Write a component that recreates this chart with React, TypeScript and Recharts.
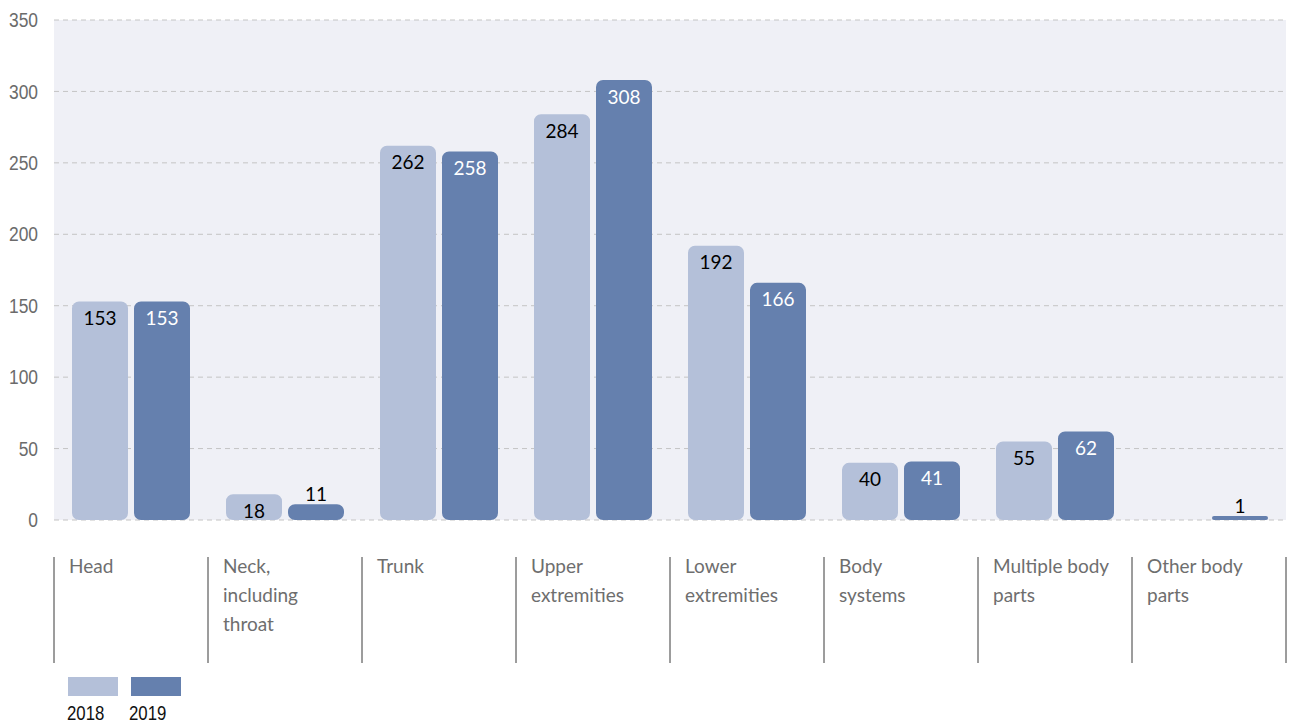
import React from 'react';
import { BarChart, Bar, XAxis, YAxis, CartesianGrid, LabelList, Legend } from 'recharts';

const categories = [
  'Head',
  'Neck, including throat',
  'Trunk',
  'Upper extremities',
  'Lower extremities',
  'Body systems',
  'Multiple body parts',
  'Other body parts',
];
const categoryLines = [
  ['Head'],
  ['Neck,', 'including', 'throat'],
  ['Trunk'],
  ['Upper', 'extremities'],
  ['Lower', 'extremities'],
  ['Body', 'systems'],
  ['Multiple body', 'parts'],
  ['Other body', 'parts'],
];
const values2018: (number | null)[] = [153, 18, 262, 284, 192, 40, 55, null];
const values2019: number[] = [153, 11, 258, 308, 166, 41, 62, 1];
const yTicks = [0, 50, 100, 150, 200, 250, 300, 350];
const seriesNames = ['2018', '2019'];

const W = 1290;
const H = 723;
const LEFT = 54;
const RIGHT = 4;
const COLOR_2018 = '#b4c0d9';
const COLOR_2019 = '#6580ae';
const BAND = (W - LEFT - RIGHT) / categories.length;

const data = categories.map((c, i) => ({
  name: c,
  v2018: values2018[i],
  v2019: values2019[i],
}));

const YTick = (props: any) => {
  const { x, y, payload } = props;
  return (
    <text
      transform={`translate(${x},${y}) scale(0.87,1)`}
      textAnchor="end"
      dy="0.36em"
      fill="#6b6b6b"
      fontFamily="'Liberation Sans', Arial, sans-serif"
      fontSize={20}
    >
      {payload.value}
    </text>
  );
};

const XTick = (props: any) => {
  const { x, y, payload } = props;
  const idx = categories.indexOf(payload.value);
  const left = x - BAND / 2;
  const lines = categoryLines[idx] || [payload.value];
  return (
    <g>
      <line x1={left} x2={left} y1={y + 37} y2={y + 143} stroke="#3a3a3a" strokeWidth={1} />
      {idx === categories.length - 1 && (
        <line x1={left + BAND} x2={left + BAND} y1={y + 37} y2={y + 143} stroke="#3a3a3a" strokeWidth={1} />
      )}
      <text x={left + 15} y={y + 53} fill="#6e6e6e" fontFamily="Lato, sans-serif" fontSize={19}>
        {lines.map((l, i) => (
          <tspan key={i} x={left + 15} dy={i === 0 ? 0 : 29}>
            {l}
          </tspan>
        ))}
      </text>
    </g>
  );
};

const makeLabel = (insideColor: string) => (props: any) => {
  const { x, y, width, value } = props;
  if (value == null) return null;
  const above = value < 15;
  return (
    <text
      x={Number(x) + Number(width) / 2}
      y={above ? Number(y) - 11 : Number(y) + 16}
      textAnchor="middle"
      dominantBaseline="central"
      fill={above ? '#000' : insideColor}
      fontFamily="Lato, sans-serif"
      fontSize={19}
    >
      {value}
    </text>
  );
};

const LegendContent = () => (
  <svg width={200} height={58} style={{ overflow: 'visible' }}>
    <rect x={8} y={12} width={50} height={19} fill={COLOR_2018} />
    <rect x={71} y={12} width={50} height={19} fill={COLOR_2019} />
    <text
      transform="translate(7,55) scale(0.8,1)"
      fill="#111"
      fontFamily="'Liberation Sans', Arial, sans-serif"
      fontSize={21}
    >
      {seriesNames[0]}
    </text>
    <text
      transform="translate(69,55) scale(0.8,1)"
      fill="#111"
      fontFamily="'Liberation Sans', Arial, sans-serif"
      fontSize={21}
    >
      {seriesNames[1]}
    </text>
  </svg>
);

export default function App() {
  return (
    <div style={{ position: 'absolute', left: 0, top: 0, width: W, height: H, background: '#fff' }}>
      <BarChart
        width={W}
        height={H}
        data={data}
        margin={{ top: 20, right: RIGHT, bottom: 60, left: 0 }}
        barCategoryGap={18}
        barGap={6}
      >
        <CartesianGrid
          vertical={false}
          fill="#eff0f6"
          stroke="#c4c4c4"
          strokeDasharray="5 4"
        />
        <XAxis
          dataKey="name"
          axisLine={false}
          tickLine={false}
          tickSize={0}
          tickMargin={0}
          height={143}
          interval={0}
          tick={<XTick />}
        />
        <YAxis
          width={LEFT}
          domain={[0, 350]}
          ticks={yTicks}
          axisLine={false}
          tickLine={false}
          tickSize={0}
          tickMargin={16}
          tick={<YTick />}
        />
        <Legend
          verticalAlign="middle"
          align="center"
          layout="horizontal"
          wrapperStyle={{ left: 60, top: 665, width: 200, height: 58 }}
          content={<LegendContent />}
        />
        <Bar dataKey="v2018" name={seriesNames[0]} fill={COLOR_2018} radius={[7, 7, 7, 7]} isAnimationActive={false}>
          <LabelList dataKey="v2018" content={makeLabel('#000')} />
        </Bar>
        <Bar
          dataKey="v2019"
          name={seriesNames[1]}
          fill={COLOR_2019}
          radius={[7, 7, 7, 7]}
          minPointSize={4}
          isAnimationActive={false}
        >
          <LabelList dataKey="v2019" content={makeLabel('#fff')} />
        </Bar>
      </BarChart>
    </div>
  );
}
